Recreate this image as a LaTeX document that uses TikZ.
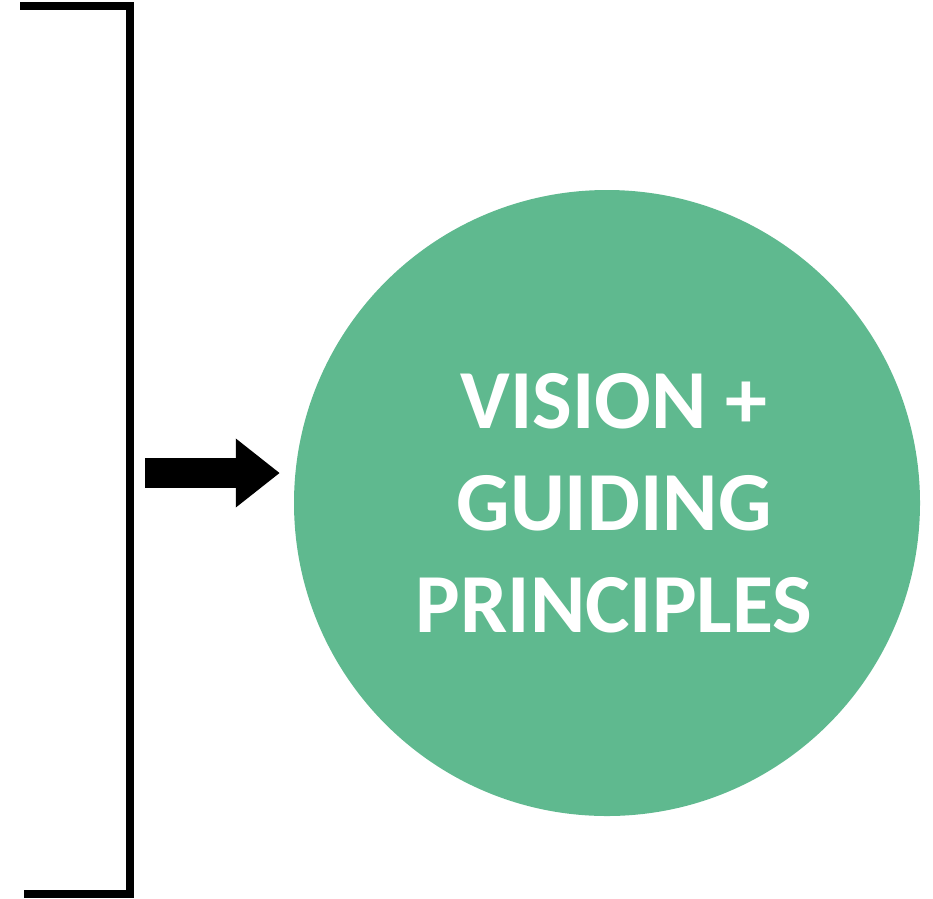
\documentclass[tikz,border=0pt]{standalone}
\usepackage{fontspec}
\setmainfont{Carlito}
\usetikzlibrary{arrows.meta}
\definecolor{visiongreen}{RGB}{95,185,143}

\begin{document}
\begin{tikzpicture}[x=1pt, y=-1pt,
    bracketline/.style={line width=8pt, line join=miter},
    blockarrow/.style={line width=30pt, -{Triangle[length=44pt, width=66pt]}},
    visioncircle/.style={circle, fill=visiongreen, minimum size=626pt, inner sep=0pt},
    visiontext/.style={text=white, font=\fontsize{84}{102}\selectfont\bfseries, align=center}]
    \useasboundingbox (0,0) rectangle (933,898);
    % bracket on the left
    \coordinate (btop) at (20,6);
    \coordinate (bbot) at (24,894);
    \draw[bracketline] (btop) -- (130,6) -- (130,894) -- (bbot);
    % circle with the text
    \node[visioncircle] (vision) at (607,503) {};
    \node[visiontext] (label) at (614,503) {VISION +\\GUIDING\\PRINCIPLES};
    % arrow into the circle
    \coordinate (src) at (145,473);
    \draw[blockarrow, shorten >=14pt] (src) -- (src -| vision.west);
\end{tikzpicture}
\end{document}
